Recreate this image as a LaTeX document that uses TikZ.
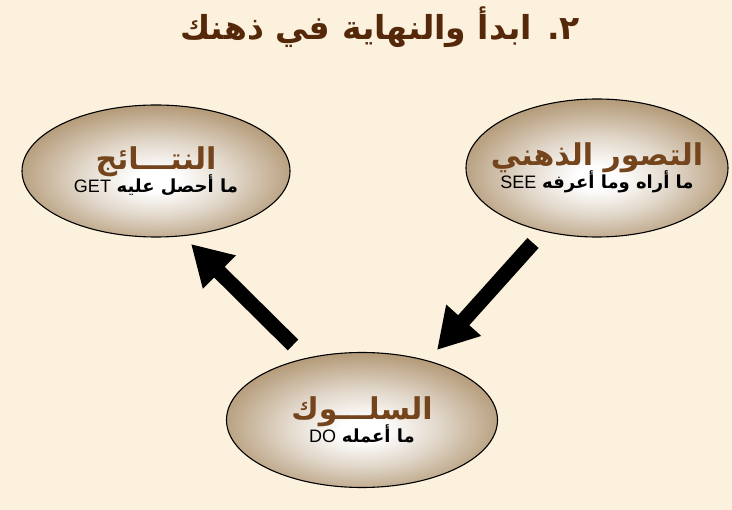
\documentclass[tikz,border=0pt]{standalone}
\usepackage{fontspec}
\usetikzlibrary{shapes.geometric,arrows.meta}
\newfontfamily\arabicfont[Script=Arabic]{DejaVu Sans}
\newfontfamily\latinfont{Liberation Sans}
\TeXXeTstate=1

\definecolor{parchment}{HTML}{FBF1DC}
\definecolor{titlebrown}{HTML}{55280A}
\definecolor{headbrown}{HTML}{74451C}
\definecolor{rimbrown}{HTML}{9E7D51}

\pgfdeclareradialshading{bubbleshade}{\pgfpoint{0bp}{-4bp}}{%
  color(0bp)=(white); color(4bp)=(white);
  color(14bp)=(rimbrown!30!white); color(26bp)=(rimbrown!75!white);
  color(38bp)=(rimbrown); color(50bp)=(rimbrown)}

\newcommand{\headline}[1]{{\fontsize{30}{32}\selectfont\bfseries\color{headbrown}\beginR #1\endR}}
\newcommand{\subline}[2]{{\fontsize{18}{20}\selectfont\beginR{\bfseries #1} \beginL{\latinfont #2}\endL\endR}}

\tikzset{
  bubble/.style={ellipse, draw=black, line width=1.1pt, shading=bubbleshade,
    minimum width=268pt, minimum height=132pt, inner xsep=-50pt, inner ysep=-15pt,
    align=center, font=\arabicfont},
  bigarrow/.style={line width=15pt, -{Triangle[length=40pt,width=44pt]}}
}

\begin{document}
\begin{tikzpicture}[x=1pt,y=-1pt]
    \fill[parchment] (0,0) rectangle (732,510);
    \useasboundingbox (0,0) rectangle (732,510);

    % title
    \node[font=\arabicfont\fontsize{33}{36}\selectfont\bfseries, text=titlebrown] (title) at (380,27)
        {\beginR ٢. ابدأ والنهاية في ذهنك\endR};

    % the three stages
    \node[bubble] (get) at (156,171) {\headline{النتـــائج}\\[-3pt] \subline{ما أحصل عليه}{GET}};
    \node[bubble, minimum width=262pt, minimum height=138pt] (see) at (597,168)
        {\headline{التصور الذهني}\\[-3pt] \subline{ما أراه وما أعرفه}{SEE}};
    \node[bubble, minimum width=271pt, minimum height=135pt] (do) at (362,420)
        {\headline{السلـــوك}\\[-3pt] \subline{ما أعمله}{DO}};

    % arrow ends
    \coordinate (seeTail) at (533,243);
    \coordinate (doTip) at (437,350);
    \coordinate (doTail) at (293,345);
    \coordinate (getTip) at (191,244);

    \draw[bigarrow] (seeTail) -- (doTip);
    \draw[bigarrow] (doTail) -- (getTip);
\end{tikzpicture}
\end{document}
